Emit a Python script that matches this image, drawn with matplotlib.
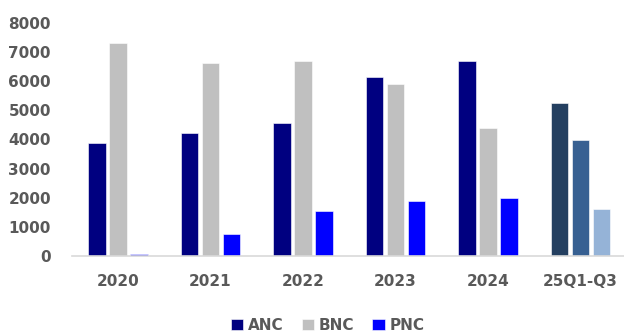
import numpy as np
import matplotlib
matplotlib.use('Agg')
import matplotlib.pyplot as plt

categories = ['2020', '2021', '2022', '2023', '2024', '25Q1-Q3']
anc = [3870, 4210, 4560, 6140, 6690, 5240]
bnc = [7300, 6610, 6680, 5910, 4390, 3990]
pnc = [60, 740, 1540, 1890, 1990, 1610]

series = ['ANC', 'BNC', 'PNC']
base_colors = ['#000080', '#C0C0C0', '#0000FF']
last_colors = ['#243F60', '#376092', '#95B3D7']

plt.rcParams['font.family'] = ['DejaVu Sans']

fig = plt.figure(figsize=(6.24, 3.33), dpi=100)
ax = fig.add_axes([0.115, 0.231, 0.885, 0.701])

x = np.arange(len(categories))
step = 0.227
width = 0.185

for i, (name, vals) in enumerate(zip(series, [anc, bnc, pnc])):
    colors = [base_colors[i]] * (len(categories) - 1) + [last_colors[i]]
    ax.bar(x + (i - 1) * step, vals, width, color=colors, label=name,
           edgecolor='white', linewidth=0.4)

ax.set_xlim(-0.5, 5.47)
ax.set_ylim(0, 8000)
ax.set_yticks(range(0, 8001, 1000))
ax.set_xticks(x)
ax.set_xticklabels(categories)

for side in ['top', 'right', 'left']:
    ax.spines[side].set_visible(False)
ax.spines['bottom'].set_color('#D9D9D9')
ax.spines['bottom'].set_linewidth(1.2)

ax.tick_params(axis='both', length=0, labelsize=11, labelcolor='#595959')
ax.tick_params(axis='x', pad=13)
ax.tick_params(axis='y', pad=15)
for lab in ax.get_xticklabels() + ax.get_yticklabels():
    lab.set_fontweight('bold')

leg = fig.legend(loc='center', bbox_to_anchor=(0.525, 0.023), ncol=3,
                 frameon=False, handlelength=0.8, handleheight=0.8,
                 handletextpad=0.3, columnspacing=1.2,
                 prop={'weight': 'bold', 'size': 11})
for t in leg.get_texts():
    t.set_color('#595959')

plt.savefig('out.png', dpi=100)
